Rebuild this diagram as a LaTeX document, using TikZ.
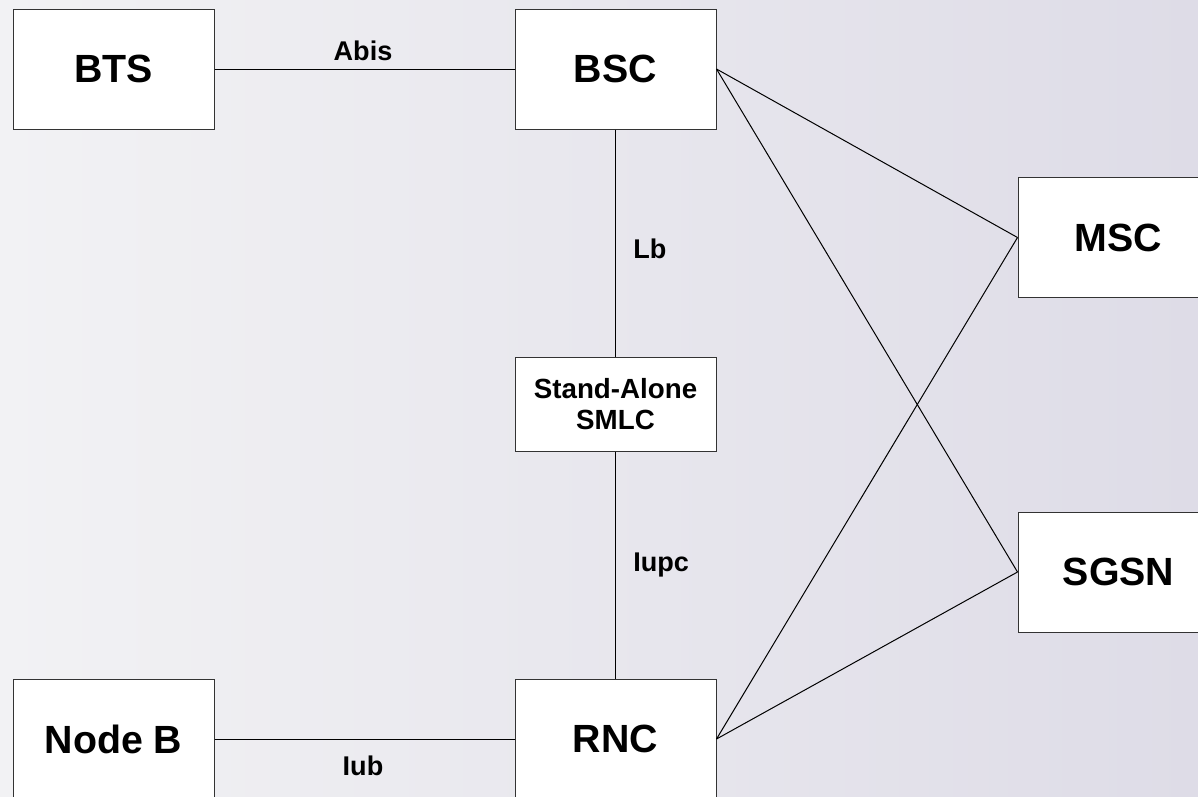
\documentclass[tikz,border=0pt]{standalone}
\usepackage{fontspec}
\setmainfont{Liberation Sans}
\usetikzlibrary{positioning}

\definecolor{bgleft}{RGB}{242,242,244}
\definecolor{bgright}{RGB}{222,220,231}

\begin{document}
\begin{tikzpicture}[x=0.75pt, y=-0.75pt,
    netbox/.style={draw=black!80, line width=0.75pt, fill=white, inner sep=0pt,
        minimum width=150.75pt, minimum height=90pt,
        font=\bfseries\fontsize{29.5}{33}\selectfont},
    smlcbox/.style={netbox, minimum height=70.5pt, align=center,
        font=\bfseries\fontsize{20.8}{23.5}\selectfont},
    iflabel/.style={inner sep=0pt, font=\bfseries\fontsize{20.3}{23}\selectfont},
    link/.style={black, line width=0.75pt}]
    % Frame and background
    \useasboundingbox (0,0) rectangle (1198,796);
    \clip (0,0) rectangle (1198,796);
    \shade[left color=bgleft, right color=bgright] (0,0) rectangle (1198,796);

    % Network elements
    \node[netbox] (bts) at (113.5, 69) {BTS};
    \node[netbox] (bsc) at (615.5, 69) {BSC};
    \node[smlcbox] (smlc) at (615.5, 404) {Stand-Alone\\SMLC};
    \node[netbox] (msc) at (1118.5, 237.5) {MSC};
    \node[netbox] (sgsn) at (1118.5, 572) {SGSN};
    \node[netbox] (nodeb) at (113.5, 739) {Node B};
    \node[netbox] (rnc) at (615.5, 739) {RNC};

    % Interfaces
    \draw[link] (bts.east) -- (bsc.west);
    \draw[link] (bsc.south) -- (smlc.north);
    \draw[link] (smlc.south) -- (rnc.north);
    \draw[link] (nodeb.east) -- (rnc.west);
    \draw[link] (bsc.east) -- (msc.west);
    \draw[link] (bsc.east) -- (sgsn.west);
    \draw[link] (rnc.east) -- (msc.west);
    \draw[link] (rnc.east) -- (sgsn.west);

    % Interface labels
    \node[iflabel, anchor=base] (abis) at (363, 60) {Abis};
    \node[iflabel, anchor=base west] (lb) at (633, 258) {Lb};
    \node[iflabel, anchor=base west] (iupc) at (633, 571) {Iupc};
    \node[iflabel, anchor=base] (iub) at (363, 775) {Iub};
\end{tikzpicture}
\end{document}
